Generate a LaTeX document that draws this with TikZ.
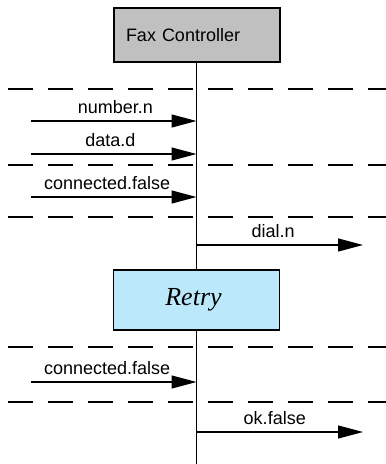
\documentclass[tikz,border=0pt]{standalone}
\usepackage{fontspec}
\setmainfont{Liberation Sans}
\newfontfamily\retryfont{Liberation Serif}
\usetikzlibrary{arrows.meta}
\definecolor{boxgray}{HTML}{C0C0C0}
\definecolor{retryblue}{HTML}{BBE8FA}
\begin{document}
\begin{tikzpicture}[x=1pt,y=-1pt,
  objbox/.style={draw, line width=1.6pt, minimum width=166pt, minimum height=54pt, inner sep=0pt},
  sep/.style={draw, line width=1.1pt, dash pattern=on 25pt off 15pt},
  life/.style={draw, line width=1.2pt},
  msg/.style={draw, line width=1.2pt, -{Triangle[length=25pt,width=13pt]}},
  lbl/.style={font=\fontsize{18}{20}\selectfont, anchor=base, yshift=8pt, inner sep=0pt}
]
\useasboundingbox (0,0) rectangle (386,464);
% separators
\coordinate (s1a) at (8,89);  \coordinate (s1b) at (386,89);
\coordinate (s2a) at (8,165); \coordinate (s2b) at (386,165);
\coordinate (s3a) at (8,217); \coordinate (s3b) at (386,217);
\coordinate (s4a) at (8,347); \coordinate (s4b) at (386,347);
\coordinate (s5a) at (8,402); \coordinate (s5b) at (386,402);
\path[sep] (s1a) -- (s1b);
\path[sep] (s2a) -- (s2b);
\path[sep] (s3a) -- (s3b);
\path[sep] (s4a) -- (s4b);
\path[sep] (s5a) -- (s5b);
% lifeline
\coordinate (top) at (196.5,35);
\coordinate (bot) at (196.5,464);
\path[life] (top) -- (bot);
% boxes
\node[objbox, fill=boxgray, minimum height=54pt, text width=142pt, align=left, inner xsep=12pt,
      font=\fontsize{18}{20}\selectfont] (fax) at (197,35) {Fax Controller};
\node[objbox, fill=retryblue, minimum height=60pt,
      font=\retryfont\itshape\fontsize{26}{28}\selectfont] (retry) at (196.5,300) {\kern-6pt Retry};
% message endpoints
\coordinate (a1) at (31,121);  \coordinate (b1) at (196.5,121);
\coordinate (a2) at (31,154);  \coordinate (b2) at (196.5,154);
\coordinate (a3) at (31,197);  \coordinate (b3) at (196.5,197);
\coordinate (a4) at (196.5,245); \coordinate (b4) at (363,245);
\coordinate (a5) at (31,382);  \coordinate (b5) at (196.5,382);
\coordinate (a6) at (196.5,432); \coordinate (b6) at (363,432);
\path[msg] (a1) -- (b1) node[lbl, pos=0.51] {number.n};
\path[msg] (a2) -- (b2) node[lbl, pos=0.48] {data.d};
\path[msg] (a3) -- (b3) node[lbl, pos=0.46] {connected.false};
\path[msg] (a4) -- (b4) node[lbl, pos=0.46] {dial.n};
\path[msg] (a5) -- (b5) node[lbl, pos=0.46] {connected.false};
\path[msg] (a6) -- (b6) node[lbl, pos=0.47] {ok.false};
\end{tikzpicture}
\end{document}
